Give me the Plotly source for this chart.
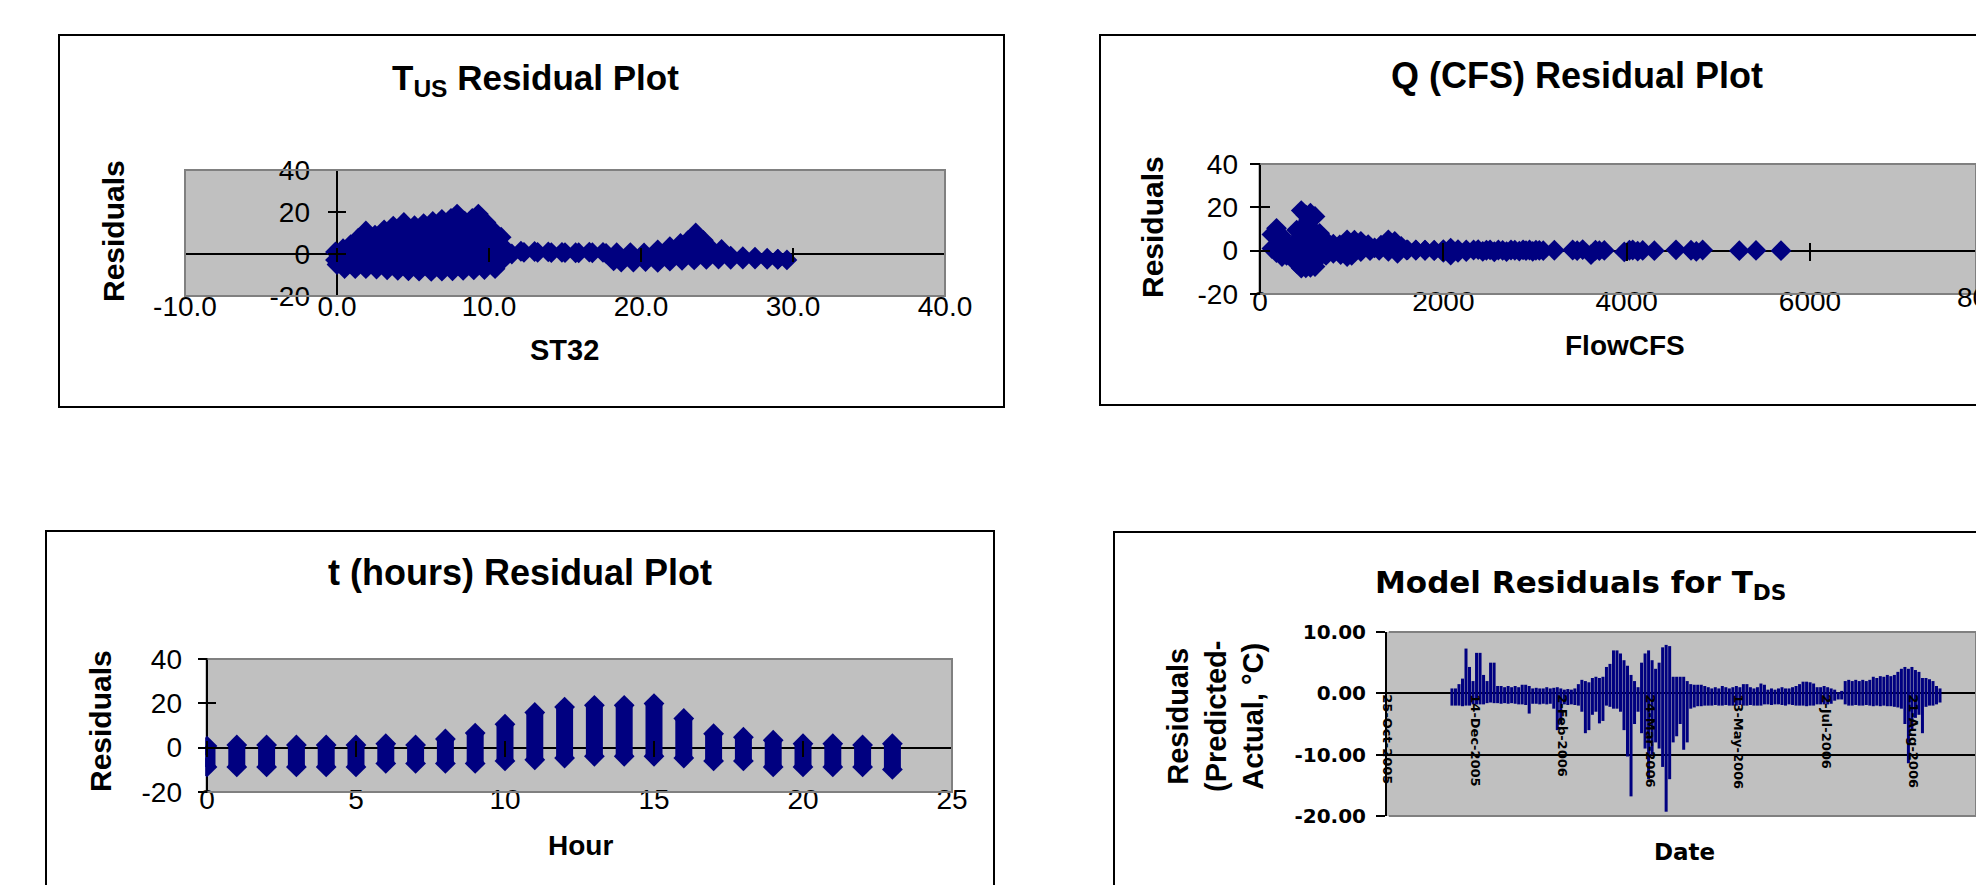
import plotly.graph_objects as go
import pandas as pd

W, H = 1976, 885
NAVY = '#000080'
GRAY = '#C0C0C0'
EDGE = '#808080'
ARIAL = 'Arial, Liberation Sans, sans-serif'
DEJAVU = 'DejaVu Sans, sans-serif'

# ---------------- data ----------------
# Chart 1: residuals vs ST32 (outline of the point cloud, marker centres)
ST32_UP_X = [-0.1, 0.4, 0.9, 1.4, 1.9, 2.5, 3.1, 3.7, 4.4, 5.1, 5.7, 6.3, 6.9, 7.5, 7.9, 8.4, 8.9, 9.3, 9.8,
             10.3, 10.8, 11.2, 12.1, 13.0, 13.9, 14.8, 15.7, 16.6, 17.5, 18.4, 19.3, 20.2, 21.1, 21.9, 22.6,
             23.1, 23.6, 24.1, 24.6, 25.3, 25.9, 26.7, 27.5, 28.3, 29.0, 29.6]
ST32_UP_Y = [1.0, 2.5, 4.5, 7.5, 11.0, 9.0, 11.5, 13.3, 15.0, 13.5, 14.5, 15.5, 16.5, 17.0, 19.0, 15.7, 17.0, 19.0, 15.0,
             11.0, 8.0, 1.5, 1.3, 1.2, 1.0, 0.8, 0.6, 0.9, 0.8, 0.6, 0.7, 0.5, 2.0, 3.5, 5.0,
             6.5, 10.0, 6.5, 2.5, 2.2, -1.0, -1.3, -1.5, -2.0, -2.4, -2.8]
ST32_LO_X = [29.0, 28.3, 27.5, 26.7, 25.9, 25.1, 24.3, 23.5, 22.7, 21.9, 21.1, 20.3, 19.5, 18.7, 18.2, 17.7,
             16.8, 15.9, 15.0, 14.1, 13.2, 12.3, 11.5, 11.0, 10.4, 9.7, 9.0, 8.3, 7.6, 6.9, 6.2, 5.4, 4.7,
             4.0, 3.3, 2.6, 1.9, 1.2, 0.5, 0.0, -0.1]
ST32_LO_Y = [-2.6, -2.5, -2.4, -2.4, -2.5, -2.4, -2.6, -2.8, -3.0, -3.4, -4.0, -3.6, -3.8, -3.8, -3.3, 0.3,
             0.6, 0.6, 0.7, 0.7, 0.8, 0.8, 0.0, -2.1, -7.0, -7.4, -7.6, -7.8, -8.0, -8.2, -8.3, -8.2, -8.0,
             -7.8, -7.5, -7.2, -7.0, -7.0, -6.9, -5.0, -2.9]
ST32_TICKS = [-10, 0, 10, 20, 30, 40]
ST32_TICK_TEXT = ['-10.0', '0.0', '10.0', '20.0', '30.0', '40.0']
RES_TICKS = [-20, 0, 20, 40]
RES_TICK_TEXT = ['-20', '0', '20', '40']

# Chart 2: residuals vs FlowCFS
FLOW_UP_X = [130, 180, 230, 290, 350, 400, 450, 500, 550, 600, 650, 720, 800, 870, 950, 1030, 1100, 1180,
             1250, 1320, 1400, 1470, 1540, 1610, 1700, 1800, 1900, 2000, 2080, 2160, 2250]
FLOW_UP_Y = [7.5, 10.3, 7.0, 3.5, 2.7, 9.5, 18.5, 16.5, 17.3, 15.8, 8.0, 4.5, 3.0, 2.7, 5.0, 4.8, 4.3, 2.8,
             1.3, 2.5, 5.0, 4.3, 2.0, 0.4, 0.4, 0.2, 0.2, 0.5, 1.2, 0.5, 0.4]
FLOW_LO_X = [2250, 2160, 2080, 2000, 1900, 1800, 1700, 1600, 1500, 1400, 1300, 1200, 1100, 1000, 950, 880,
             800, 720, 650, 600, 550, 500, 450, 400, 350, 290, 240, 180, 130]
FLOW_LO_Y = [-0.4, -0.8, -2.0, -0.8, 0.0, 0.2, 0.2, 0.3, -1.2, -0.3, 0.2, 0.0, -0.4, -2.2, -2.7, -1.8,
             -1.2, -2.2, -3.0, -7.3, -7.7, -7.9, -8.1, -5.8, -2.5, -2.2, -2.7, -0.9, 1.0]
FLOW_PTS_X = [2330, 2380, 2430, 2470, 2510, 2556, 2600, 2647, 2690, 2738, 2780, 2829, 2870, 2902, 2940,
              2975, 3010, 3047, 3090, 3211, 3411, 3460, 3520, 3611, 3660, 3702, 3756, 3974, 4030, 4066,
              4120, 4175, 4302, 4538, 4702, 4760, 4829, 5229, 5411, 5684]
FLOW_PTS_Y = [0.3, 0.5, -0.3, 0.2, 0.4, -0.5, 0.3, 0.1, -0.4, 0.3, 0.2, -0.2, 0.4, 0.0, 0.3,
              -0.3, 0.2, 0.1, 0.0, 0.2, 0.3, 0.0, 0.5, -1.8, 0.2, 0.0, 0.1, -0.6, 0.2, 0.3,
              -0.2, 0.1, 0.0, 0.4, 0.2, -0.3, 0.3, 0.0, 0.1, 0.0]
FLOW_TICKS = [0, 2000, 4000, 6000]
FLOW_TICK_TEXT = ['0', '2000', '4000', '6000']

# Chart 3: residuals by hour (range of residuals in each hourly column)
HOUR = [0, 1, 2, 3, 4, 5, 6, 7, 8, 9, 10, 11, 12, 13, 14, 15, 16, 17, 18, 19, 20, 21, 22, 23]
HOUR_TOP = [0.7, 1.2, 1.2, 1.2, 1.2, 1.2, 1.8, 1.2, 3.9, 6.6, 10.6, 15.9, 18.3, 19.1, 19.1, 19.9,
            13.2, 6.3, 4.7, 3.4, 1.8, 1.8, 1.2, 1.8]
HOUR_BOTTOM = [-8.7, -8.7, -8.7, -8.7, -8.7, -8.7, -7.1, -7.1, -7.1, -7.1, -6.0, -5.5, -4.7, -3.9, -3.9, -3.9,
               -4.7, -6.0, -6.0, -8.7, -8.7, -8.7, -8.7, -9.8]
HOUR_TICKS = [0, 5, 10, 15, 20, 25]
HOUR_TICK_TEXT = ['0', '5', '10', '15', '20', '25']

# Chart 4: model residuals for T_DS over time (daily spread, days after 25-Oct-2005)
TDS_START = '2005-10-25'
TDS_END = '2006-09-25 12:00'
TDS_DAY = [37, 39, 41, 43, 45, 47, 49, 51, 53, 55, 57, 59, 61, 63, 65, 67, 69, 71, 73, 75,
           77, 79, 81, 83, 85, 87, 89, 91, 93, 95, 97, 99, 101, 103, 105, 107, 109, 111, 113, 115,
           117, 119, 121, 123, 125, 127, 129, 131, 133, 135, 137, 139, 141, 143, 145, 147, 149, 151, 153, 155,
           157, 159, 161, 163, 165, 167, 169, 171, 173, 175, 177, 179, 181, 183, 185, 187, 189, 191, 193, 195,
           197, 199, 201, 203, 205, 207, 209, 211, 213, 215, 217, 219, 221, 223, 225, 227, 229, 231, 233, 235,
           237, 239, 241, 243, 245, 247, 249, 251, 253, 255, 257, 259, 261, 263, 265, 267, 269, 271, 273, 275,
           277, 279, 281, 283, 285, 287, 289, 291, 293, 295, 297, 299, 301, 303, 305, 307, 309, 311, 313, 315]
TDS_HIGH = [0.8, 0.8, 1.5, 2.4, 7.3, 4.3, 2.0, 6.6, 6.6, 3.0,
            2.0, 5.0, 5.0, 1.2, 1.2, 1.0, 1.2, 1.0, 1.2, 1.0,
            1.4, 1.4, 1.2, 0.8, 0.9, 0.8, 0.8, 1.0, 0.8, 0.9,
            1.0, 0.8, 0.6, 0.7, 0.6, 0.8, 1.5, 2.2, 2.0, 1.8,
            2.5, 2.7, 2.5, 2.7, 4.3, 4.8, 7.0, 7.0, 6.5, 5.4,
            4.5, 3.0, 2.0, 1.0, 5.0, 6.5, 7.0, 5.4, 4.0, 5.0,
            7.5, 7.9, 7.7, 2.7, 2.7, 2.7, 2.7, 2.0, 1.5, 1.4,
            1.4, 1.4, 1.2, 1.0, 0.8, 1.0, 0.8, 1.2, 1.0, 0.8,
            1.0, 1.2, 1.0, 1.5, 1.5, 1.0, 0.8, 1.0, 1.6, 1.4,
            0.6, 0.8, 0.6, 0.8, 1.0, 0.8, 0.8, 1.0, 1.2, 1.5,
            1.9, 1.9, 1.8, 1.6, 1.0, 1.0, 1.2, 1.0, 0.8, 0.6,
            0.2, 0.4, 2.0, 2.2, 2.0, 2.2, 2.0, 2.2, 2.0, 2.2,
            2.7, 2.5, 2.8, 2.7, 3.0, 2.8, 3.0, 3.5, 4.0, 4.3,
            4.0, 4.3, 3.8, 3.5, 2.5, 2.5, 2.3, 2.0, 1.2, 0.8]
TDS_LOW = [-2.0, -2.0, -2.0, -2.1, -2.0, -2.0, -1.8, -1.8, -1.8, -1.8,
           -1.6, -1.5, -1.6, -1.6, -1.7, -1.6, -1.7, -1.6, -1.7, -1.8,
           -1.8, -1.9, -3.3, -1.7, -1.7, -1.8, -1.7, -1.8, -1.7, -2.5,
           -6.0, -5.0, -1.8, -1.9, -1.8, -1.9, -2.0, -3.0, -6.5, -6.0,
           -3.5, -3.0, -4.9, -4.5, -2.0, -2.2, -2.5, -2.5, -3.0, -6.0,
           -10.3, -16.8, -5.0, -3.0, -6.5, -9.0, -14.0, -10.0, -8.0, -9.0,
           -12.0, -19.3, -14.0, -8.0, -7.0, -5.0, -9.2, -8.0, -2.5, -2.3,
           -2.1, -2.1, -2.0, -2.0, -2.0, -1.9, -2.0, -2.0, -1.9, -2.0,
           -2.0, -2.0, -1.9, -2.0, -2.0, -1.9, -2.0, -2.0, -2.0, -1.8,
           -1.8, -1.9, -1.8, -1.8, -1.9, -2.0, -1.8, -1.9, -2.0, -2.0,
           -2.0, -2.1, -2.0, -2.0, -1.8, -1.8, -1.8, -1.8, -1.7, -1.2,
           -1.0, -1.0, -1.8, -2.0, -2.0, -1.9, -2.0, -2.0, -1.9, -2.0,
           -2.1, -2.0, -2.1, -2.0, -2.1, -2.1, -2.2, -2.3, -2.5, -5.0,
           -11.4, -6.0, -4.0, -3.5, -6.5, -2.2, -2.0, -2.0, -1.8, -1.5]
TDS_Y_TICKS = [-20, -10, 0, 10]
TDS_Y_TICK_TEXT = ['-20.00', '-10.00', '0.00', '10.00']


# ---------------- helpers (pixel layout -> paper fractions) ----------------
def fx(px):
    return px / W


def fy(py):
    return 1 - py / H


fig = go.Figure()
DIAMOND = dict(symbol='diamond', size=16, color=NAVY, line=dict(width=0))

# Chart 1
fig.add_trace(go.Scatter(x=ST32_UP_X + ST32_LO_X, y=ST32_UP_Y + ST32_LO_Y, mode='lines+markers',
                         fill='toself', fillcolor=NAVY, line=dict(color=NAVY, width=1), marker=DIAMOND,
                         xaxis='x', yaxis='y', hoverinfo='skip', showlegend=False))
# Chart 2
fig.add_trace(go.Scatter(x=FLOW_UP_X + FLOW_LO_X, y=FLOW_UP_Y + FLOW_LO_Y, mode='lines+markers',
                         fill='toself', fillcolor=NAVY, line=dict(color=NAVY, width=1), marker=DIAMOND,
                         xaxis='x2', yaxis='y2', hoverinfo='skip', showlegend=False))
fig.add_trace(go.Scatter(x=FLOW_PTS_X, y=FLOW_PTS_Y, mode='markers', marker=DIAMOND,
                         xaxis='x2', yaxis='y2', hoverinfo='skip', showlegend=False))
# Chart 3
hx, hy = [], []
for h, top, bot in zip(HOUR, HOUR_TOP, HOUR_BOTTOM):
    hx += [h, h, None]
    hy += [bot, top, None]
fig.add_trace(go.Scatter(x=hx, y=hy, mode='lines+markers', line=dict(color=NAVY, width=17),
                         marker=DIAMOND, xaxis='x3', yaxis='y3', hoverinfo='skip', showlegend=False))
# Chart 4
dates = pd.Timestamp(TDS_START) + pd.to_timedelta(TDS_DAY, unit='D')
tx, ty = [], []
for d, hi, lo in zip(dates, TDS_HIGH, TDS_LOW):
    tx += [d, d, None]
    ty += [lo, hi, None]
fig.add_trace(go.Scatter(x=tx, y=ty, mode='lines', line=dict(color=NAVY, width=3),
                         xaxis='x4', yaxis='y4', hoverinfo='skip', showlegend=False))

# empty traces that hold the overlay axes used for the crossing tick marks
for xa, ya in [('x5', 'y'), ('x', 'y5'), ('x6', 'y2'), ('x2', 'y6'), ('x7', 'y3'), ('x3', 'y7')]:
    fig.add_trace(go.Scatter(x=[], y=[], xaxis=xa, yaxis=ya, hoverinfo='skip', showlegend=False))

TICKFONT = dict(family=ARIAL, size=28, color='black')


def label_axis(domain, rng, pos, vals, text, zl=True):
    return dict(domain=domain, range=rng, anchor='free', position=pos, tickvals=vals, ticktext=text,
                ticks='', showline=False, showgrid=False, zeroline=zl, zerolinecolor='black',
                zerolinewidth=2, tickfont=TICKFONT, fixedrange=True)


def tick_axis(over, rng, pos, vals, ln, side):
    return dict(overlaying=over, range=rng, anchor='free', position=pos, side=side, tickvals=vals,
                ticks='outside', ticklen=ln, tickwidth=2, tickcolor='black', showticklabels=False,
                showline=False, showgrid=False, zeroline=False, fixedrange=True)


layout = dict(
    width=W, height=H, autosize=False, margin=dict(l=0, r=0, t=0, b=0, pad=0, autoexpand=False),
    paper_bgcolor='white', plot_bgcolor=GRAY, showlegend=False,
    # chart 1
    xaxis=label_axis([fx(185), fx(945)], [-10, 40], fy(287), ST32_TICKS, ST32_TICK_TEXT),
    yaxis=label_axis([fy(296), fy(170)], [-20, 40], fx(310), RES_TICKS, RES_TICK_TEXT),
    xaxis5=tick_axis('x', [-10, 40], fy(247), ST32_TICKS, 14, 'bottom'),
    yaxis5=tick_axis('y', [-20, 40], fx(346), RES_TICKS, 18, 'left'),
    # chart 2
    xaxis2=label_axis([fx(1258), 1.0], [-22, 7811], fy(282), FLOW_TICKS, FLOW_TICK_TEXT),
    yaxis2=label_axis([fy(294), fy(164)], [-20, 40], fx(1238), RES_TICKS, RES_TICK_TEXT),
    xaxis6=tick_axis('x2', [-22, 7811], fy(241.7), FLOW_TICKS, 18, 'bottom'),
    yaxis6=tick_axis('y2', [-20, 40], fx(1270), RES_TICKS, 20, 'left'),
    # chart 3
    xaxis3=label_axis([fx(205.2), fx(952)], [-0.06, 25], fy(780), HOUR_TICKS, HOUR_TICK_TEXT),
    yaxis3=label_axis([fy(792), fy(659)], [-20, 40], fx(182), RES_TICKS, RES_TICK_TEXT),
    xaxis7=tick_axis('x3', [-0.06, 25], fy(739.7), HOUR_TICKS, 16, 'bottom'),
    yaxis7=tick_axis('y3', [-20, 40], fx(216), RES_TICKS, 18, 'left'),
    # chart 4
    xaxis4=dict(type='date', domain=[fx(1387), 1.0], range=[TDS_START, TDS_END], anchor='free',
                position=fy(693.3), tick0=TDS_START, dtick=50 * 86400000, tickformat='%-d-%b-%Y',
                tickangle=90, ticks='', showline=False, showgrid=False, zeroline=False,
                tickfont=dict(family=DEJAVU, size=13, color='black', weight='bold'), fixedrange=True),
    yaxis4=dict(domain=[fy(816), fy(632)], range=[-20, 10], anchor='x4', tickvals=TDS_Y_TICKS,
                ticktext=TDS_Y_TICK_TEXT, ticks='outside', ticklen=9, tickwidth=2, tickcolor='black',
                showline=True, linecolor='black', linewidth=2, showgrid=True, gridcolor='black',
                gridwidth=2, zeroline=False, ticklabelstandoff=6,
                tickfont=dict(family=DEJAVU, size=20, color='black', weight='bold'), fixedrange=True),
)

shapes = []
# outer chart borders
for x0, x1, y0, y1 in [(59, 1004, 35, 407), (1100, 1995, 35, 405), (46, 994, 531, 900), (1114, 1995, 532, 900)]:
    shapes.append(dict(type='rect', xref='paper', yref='paper', x0=fx(x0), x1=fx(x1), y0=fy(y1), y1=fy(y0),
                       line=dict(color='black', width=2), fillcolor='rgba(0,0,0,0)', layer='above'))
# plot-area borders (chart 1 full box; others open on the y-axis side)
shapes.append(dict(type='rect', xref='x domain', yref='y domain', x0=0, x1=1, y0=0, y1=1,
                   line=dict(color=EDGE, width=2), fillcolor='rgba(0,0,0,0)', layer='above'))
for xa, ya in [('x2', 'y2'), ('x3', 'y3'), ('x4', 'y4')]:
    shapes.append(dict(type='path', xref=xa + ' domain', yref=ya + ' domain', path='M 0.003,1 L 1,1 L 1,0 L 0.003,0',
                       line=dict(color=EDGE, width=2), fillcolor='rgba(0,0,0,0)', layer='above'))
layout['shapes'] = shapes

TITLE = dict(family=ARIAL, size=35, color='black')
AXT = dict(family=ARIAL, size=29, color='black')


def ann(text, px, py, font, angle=0):
    return dict(text=text, x=fx(px), y=fy(py), xref='paper', yref='paper', showarrow=False,
                xanchor='center', yanchor='middle', font=font, textangle=angle)


layout['annotations'] = [
    ann('<b>T<sub>US</sub> Residual Plot</b>', 535, 80, TITLE),
    ann('<b>ST32</b>', 564, 350, AXT),
    ann('<b>Residuals</b>', 113, 231, dict(family=ARIAL, size=30, color='black'), -90),
    ann('<b>Q (CFS) Residual Plot</b>', 1577, 75, dict(family=ARIAL, size=36, color='black')),
    ann('<b>FlowCFS</b>', 1625, 345, dict(family=ARIAL, size=28, color='black')),
    ann('<b>Residuals</b>', 1152, 227, dict(family=ARIAL, size=30, color='black'), -90),
    ann('8000', 1988, 297, TICKFONT),
    ann('<b>t (hours) Residual Plot</b>', 520, 572, dict(family=ARIAL, size=36, color='black')),
    ann('<b>Hour</b>', 580, 845, dict(family=ARIAL, size=28, color='black')),
    ann('<b>Residuals</b>', 100, 721, dict(family=ARIAL, size=30, color='black'), -90),
    ann('<b>Model Residuals for T<sub>DS</sub></b>', 1580, 584, dict(family=DEJAVU, size=31, color='black')),
    ann('<b>Residuals<br>(Predicted-<br>Actual, °C)</b>', 1215, 717, dict(family=ARIAL, size=29, color='black'), -90),
    ann('<b>Date</b>', 1684, 852, dict(family=DEJAVU, size=23, color='black')),
]

fig.update_layout(**layout)
fig.write_html('out.html', config={'displayModeBar': False},
               post_script="document.body.style.margin='0px';document.body.style.overflow='hidden';")
